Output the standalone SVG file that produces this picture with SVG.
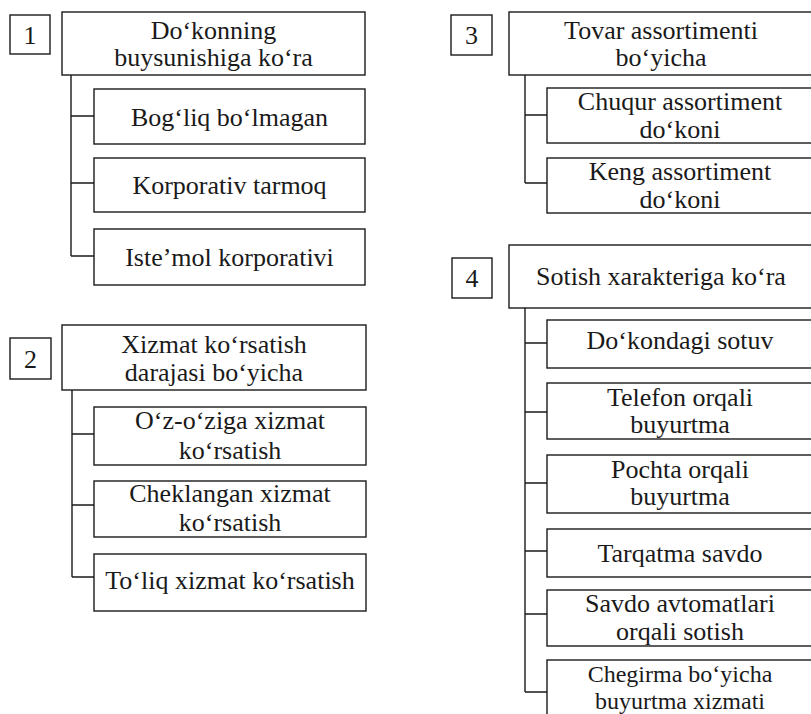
<svg xmlns="http://www.w3.org/2000/svg" width="811" height="714" viewBox="0 0 811 714">
<style>
.b{fill:#fff;stroke:#1a1a1a;stroke-width:1.4}
.c{fill:none;stroke:#1a1a1a;stroke-width:1.4}
text{font-family:"Liberation Serif","Times New Roman",serif;font-size:26px;fill:#1a1a1a;text-anchor:middle}
.s{font-size:24px}
</style>
<rect width="811" height="714" fill="#fff"/>
<g id="connectors">
<path class="c" d="M71 75V256M71 116H94M71 183H94M71 256H94"/>
<path class="c" d="M72 390V577M72 434H94M72 505H94M72 577H94"/>
<path class="c" d="M525 75V183M525 115H547M525 183H547"/>
<path class="c" d="M525 308V692M525 343H547M525 412H547M525 483H547M525 551H547M525 614H547M525 692H547"/>
</g>
<g id="n1"><rect class="b" x="10" y="15" width="40" height="39"/><text x="30" y="44">1</text></g>
<g id="h1"><rect class="b" x="62" y="12" width="303" height="63"/><text x="213.5" y="39">Do‘konning</text><text x="213.5" y="66">buysunishiga ko‘ra</text></g>
<g id="c1a"><rect class="b" x="94" y="89" width="271" height="55"/><text x="229.5" y="126">Bog‘liq bo‘lmagan</text></g>
<g id="c1b"><rect class="b" x="94" y="158" width="271" height="54"/><text x="229.5" y="194">Korporativ tarmoq</text></g>
<g id="c1c"><rect class="b" x="94" y="229" width="271" height="56"/><text x="229.5" y="266">Iste’mol korporativi</text></g>

<g id="n2"><rect class="b" x="10" y="338" width="41" height="41"/><text x="30.5" y="368">2</text></g>
<g id="h2"><rect class="b" x="62" y="325" width="304" height="65"/><text x="214" y="353">Xizmat ko‘rsatish</text><text x="214" y="381">darajasi bo‘yicha</text></g>
<g id="c2a"><rect class="b" x="94" y="407" width="272" height="58"/><text x="230" y="429">O‘z-o‘ziga xizmat</text><text x="230" y="459">ko‘rsatish</text></g>
<g id="c2b"><rect class="b" x="94" y="481" width="272" height="56"/><text x="230" y="502">Cheklangan xizmat</text><text x="230" y="531">ko‘rsatish</text></g>
<g id="c2c"><rect class="b" x="94" y="554" width="272" height="57"/><text x="230" y="589">To‘liq xizmat ko‘rsatish</text></g>

<g id="n3"><rect class="b" x="451" y="15" width="41" height="40"/><text x="471.5" y="44">3</text></g>
<g id="h3"><rect class="b" x="509" y="12" width="304" height="63"/><text x="661" y="39">Tovar assortimenti</text><text x="661" y="66">bo‘yicha</text></g>
<g id="c3a"><rect class="b" x="547" y="88" width="266" height="55"/><text x="680" y="110">Chuqur assortiment</text><text x="680" y="138">do‘koni</text></g>
<g id="c3b"><rect class="b" x="547" y="158" width="266" height="55"/><text x="680" y="180">Keng assortiment</text><text x="680" y="208">do‘koni</text></g>

<g id="n4"><rect class="b" x="452" y="258" width="40" height="40"/><text x="472" y="287">4</text></g>
<g id="h4"><rect class="b" x="509" y="245" width="304" height="63"/><text x="661" y="285">Sotish xarakteriga ko‘ra</text></g>
<g id="c4a"><rect class="b" x="547" y="320" width="266" height="48"/><text x="680" y="349">Do‘kondagi sotuv</text></g>
<g id="c4b"><rect class="b" x="547" y="383" width="266" height="56"/><text x="680" y="406">Telefon orqali</text><text x="680" y="433">buyurtma</text></g>
<g id="c4c"><rect class="b" x="547" y="455" width="266" height="58"/><text x="680" y="478">Pochta orqali</text><text x="680" y="505">buyurtma</text></g>
<g id="c4d"><rect class="b" x="547" y="529" width="266" height="48"/><text x="680" y="562">Tarqatma savdo</text></g>
<g id="c4e"><rect class="b" x="547" y="590" width="266" height="56"/><text x="680" y="612">Savdo avtomatlari</text><text x="680" y="640">orqali sotish</text></g>
<g id="c4f"><rect class="b" x="547" y="660" width="266" height="62"/><text class="s" x="680" y="682">Chegirma bo‘yicha</text><text class="s" x="680" y="708.6">buyurtma xizmati</text></g>
</svg>
